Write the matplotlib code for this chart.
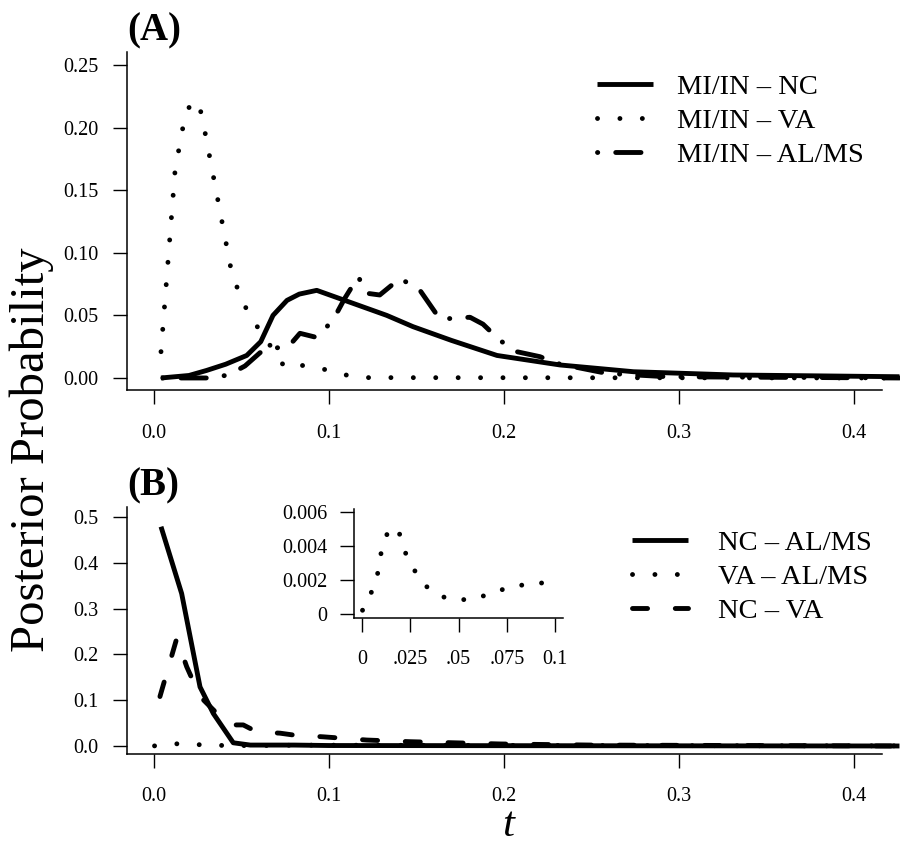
import matplotlib.pyplot as plt

plt.rcParams['font.family'] = ['Liberation Serif', 'DejaVu Serif']

# ---------------- panel A ----------------
a_nc_t = [0.004, 0.020, 0.030, 0.041, 0.053, 0.061, 0.068, 0.076, 0.083, 0.093,
          0.109, 0.120, 0.133, 0.148, 0.170, 0.196, 0.232, 0.274, 0.331, 0.426]
a_nc_p = [0.000, 0.002, 0.006, 0.011, 0.018, 0.029, 0.050, 0.062, 0.067, 0.070,
          0.062, 0.0565, 0.050, 0.041, 0.030, 0.018, 0.0104, 0.005, 0.0024, 0.001]

a_va_t = [0.004, 0.012, 0.016, 0.019, 0.023, 0.027, 0.044, 0.049, 0.055, 0.062,
          0.075, 0.085, 0.097, 0.109, 0.122, 0.426]
a_va_p = [0.021, 0.165, 0.197, 0.214, 0.222, 0.212, 0.087, 0.066, 0.049, 0.035,
          0.008, 0.010, 0.007, 0.0025, 0.0003, 0.000]

a_al_t = [0.005, 0.032, 0.0425, 0.052, 0.0606, 0.0672, 0.0768, 0.0834, 0.0926, 0.0968,
          0.1044, 0.109, 0.1167, 0.1215, 0.129, 0.1406, 0.152, 0.1634, 0.1806, 0.188,
          0.1977, 0.2073, 0.2206, 0.230, 0.2587, 0.293, 0.426]
a_al_p = [0.000, 0.000, 0.0024, 0.0096, 0.0202, 0.0237, 0.025, 0.0357, 0.0325, 0.037,
          0.0517, 0.0636, 0.081, 0.0677, 0.0663, 0.0796, 0.070, 0.047, 0.0485, 0.043,
          0.030, 0.021, 0.017, 0.0117, 0.0037, 0.001, 0.000]

# ---------------- panel B ----------------
b_nc_al_t = [0.004, 0.0158, 0.0263, 0.0339, 0.0453, 0.055, 0.080, 0.100, 0.426]
b_nc_al_p = [0.479, 0.333, 0.129, 0.071, 0.007, 0.002, 0.002, 0.001, 0.000]

b_nc_va_t = [0.0034, 0.013, 0.0187, 0.0263, 0.0368, 0.0425, 0.051, 0.0587, 0.072, 0.0796,
             0.0968, 0.1215, 0.146, 0.169, 0.198, 0.250, 0.426]
b_nc_va_p = [0.108, 0.235, 0.173, 0.108, 0.068, 0.046, 0.046, 0.031, 0.028, 0.024,
             0.020, 0.013, 0.0094, 0.0072, 0.0044, 0.002, 0.000]

# VA - AL/MS (also shown in the inset)
b_va_al_t = [0.0003, 0.0047, 0.0081, 0.0100, 0.0135, 0.0160, 0.0190, 0.0223, 0.0268, 0.0332,
             0.0421, 0.0522, 0.0613, 0.0694, 0.0791, 0.0881, 0.0959, 0.150, 0.250, 0.350, 0.426]
b_va_al_p = [0.00022, 0.00122, 0.00237, 0.00365, 0.00488, 0.0051, 0.00488, 0.00365, 0.00263, 0.00163,
             0.00100, 0.00084, 0.00100, 0.00134, 0.00163, 0.00180, 0.00184, 0.0015, 0.0010, 0.0005, 0.0003]
inset_n = 17

x_ticks = [0.0, 0.1, 0.2, 0.3, 0.4]
x_labels = ['0.0', '0.1', '0.2', '0.3', '0.4']
a_y_ticks = [0.00, 0.05, 0.10, 0.15, 0.20, 0.25]
a_y_labels = ['0.00', '0.05', '0.10', '0.15', '0.20', '0.25']
b_y_ticks = [0.0, 0.1, 0.2, 0.3, 0.4, 0.5]
b_y_labels = ['0.0', '0.1', '0.2', '0.3', '0.4', '0.5']
in_x_ticks = [0, 0.025, 0.05, 0.075, 0.1]
in_x_labels = ['0', '.025', '.05', '.075', '0.1']
in_y_ticks = [0, 0.002, 0.004, 0.006]
in_y_labels = ['0', '0.002', '0.004', '0.006']

W, H = 901, 846
LW = 3.5
DOT = (0, (0.01, 4.6))
DOTDASH = (0, (0.05, 3.7, 5.2, 3.7))
DASH = (0, (3.1, 5.7))
TICK_FS = 14.5


def style_axes(ax, xt, xl, yt, yl, xpad, ypad, spine_right=None):
    for s in ['top', 'right']:
        ax.spines[s].set_visible(False)
    for s in ['left', 'bottom']:
        ax.spines[s].set_linewidth(1.1)
    if spine_right is not None:
        ax.spines['bottom'].set_bounds(ax.get_xlim()[0], spine_right)
    ax.set_xticks(xt)
    ax.set_xticklabels(xl)
    ax.set_yticks(yt)
    ax.set_yticklabels(yl)
    ax.tick_params(axis='x', direction='out', length=9.8, width=1.0, pad=xpad,
                   labelsize=TICK_FS)
    ax.tick_params(axis='y', direction='out', length=9.8, width=1.0, pad=ypad,
                   labelsize=TICK_FS)


fig = plt.figure(figsize=(W / 100, H / 100), dpi=100)

# ---- panel A ----
axA = fig.add_axes([127 / W, 1 - 390 / H, (900 - 127) / W, (390 - 52) / H])
axA.plot(a_nc_t, a_nc_p, color='black', lw=LW, solid_capstyle='butt', label='MI/IN – NC')
axA.plot(a_va_t, a_va_p, color='black', lw=LW, ls=DOT, dash_capstyle='round', label='MI/IN – VA')
axA.plot(a_al_t, a_al_p, color='black', lw=LW, ls=DOTDASH, dash_capstyle='round',
         label='MI/IN – AL/MS')
axA.set_xlim(-0.01543, 0.4263)
axA.set_ylim(-0.0096, 0.2604)
style_axes(axA, x_ticks, x_labels, a_y_ticks, a_y_labels, 15, 11, spine_right=0.416)
axA.legend(loc='upper left', bbox_to_anchor=(597 / W, 1 - 74 / H),
           bbox_transform=fig.transFigure, frameon=False, fontsize=20.5,
           handlelength=1.96, handletextpad=0.84, labelspacing=0.28,
           borderpad=0, borderaxespad=0)

# ---- panel B ----
axB = fig.add_axes([127 / W, 1 - 754 / H, (900 - 127) / W, (754 - 507) / H])
axB.plot(b_nc_al_t, b_nc_al_p, color='black', lw=LW, solid_capstyle='butt', label='NC – AL/MS')
axB.plot(b_va_al_t, b_va_al_p, color='black', lw=LW, ls=DOT, dash_capstyle='round',
         label='VA – AL/MS')
axB.plot(b_nc_va_t, b_nc_va_p, color='black', lw=LW, ls=DASH, dash_capstyle='round',
         label='NC – VA')
axB.set_xlim(-0.01543, 0.4263)
axB.set_ylim(-0.0175, 0.522)
style_axes(axB, x_ticks, x_labels, b_y_ticks, b_y_labels, 14, 11, spine_right=0.416)
axB.legend(loc='upper left', bbox_to_anchor=(632 / W, 1 - 530 / H),
           bbox_transform=fig.transFigure, frameon=False, fontsize=20.5,
           handlelength=1.96, handletextpad=1.05, labelspacing=0.28,
           borderpad=0, borderaxespad=0)

# ---- inset ----
axI = fig.add_axes([354 / W, 1 - 618 / H, (563 - 354) / W, (618 - 509) / H])
axI.plot(b_va_al_t[:inset_n], b_va_al_p[:inset_n], color='black', lw=LW,
         ls=(0, (0.01, 4.1)), dash_capstyle='round')
axI.set_xlim(-0.0041, 0.104)
axI.set_ylim(-0.000235, 0.00618)
style_axes(axI, in_x_ticks, in_x_labels, in_y_ticks, in_y_labels, 13, 9.4)
axI.patch.set_alpha(0)

# ---- labels ----
fig.text(127 / W, 1 - 40 / H, '(A)', fontsize=28, fontweight='bold', va='baseline', ha='left')
fig.text(127 / W, 1 - 495 / H, '(B)', fontsize=28, fontweight='bold', va='baseline', ha='left')
fig.text(32 / W, 1 - 450 / H, 'Posterior Probability', fontsize=35, rotation=90,
         va='center', ha='center')
fig.text(508 / W, 1 - 845 / H, 't', fontsize=31, style='italic', va='bottom', ha='center')

fig.savefig('out.png', dpi=100)
